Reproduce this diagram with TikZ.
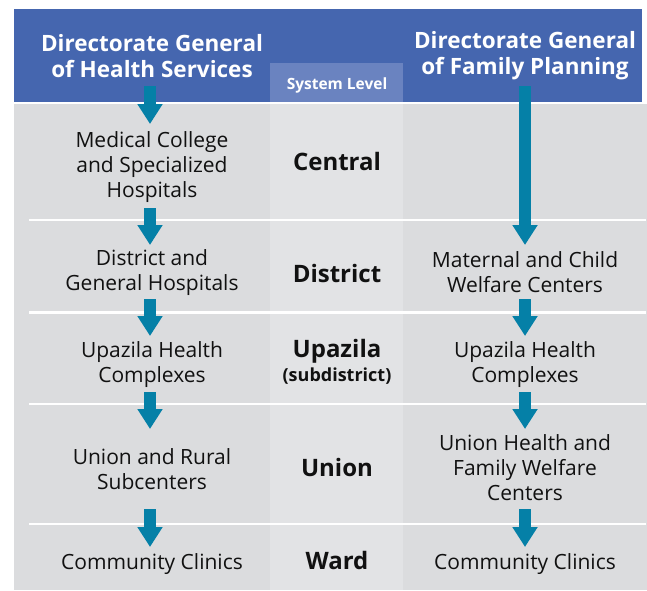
\documentclass[tikz,border=0pt]{standalone}
\usepackage{fontspec}
\setmainfont{Open Sans}
\usetikzlibrary{arrows.meta}
\definecolor{hdrblue}{HTML}{4566AF}
\definecolor{lvlblue}{HTML}{6A83C0}
\definecolor{panelgray}{HTML}{DBDCDE}
\definecolor{midgray}{HTML}{E2E3E5}
\definecolor{flowteal}{HTML}{0580A7}
\definecolor{txt}{HTML}{111111}
\begin{document}
\begin{tikzpicture}[x=1pt,y=-1pt,
  hdr/.style={text=white, font=\fontsize{22.5}{26}\selectfont\bfseries, align=center, inner sep=0pt},
  item/.style={text=txt, font=\fontsize{21}{25}\selectfont, align=center, inner sep=0pt},
  lvl/.style={text=txt, font=\fontsize{24}{25}\selectfont\bfseries, align=center, inner sep=0pt},
  sep/.style={draw=white, line width=2.6pt},
  flow/.style={draw=flowteal, line width=12pt, -{Triangle[width=24pt,length=20pt]}}]
\useasboundingbox (0,0) rectangle (647,590);
% panels
\fill[white] (0,0) rectangle (647,590);
\fill[hdrblue] (14,9) rectangle (642,102);
\fill[panelgray] (14,104) rectangle (647,590);
\fill[midgray] (270,104) rectangle (403,590);
\fill[lvlblue] (270,63) rectangle (403,102);
% row separators
\draw[sep] (29,220) -- (646,220);
\draw[sep] (29,312.5) -- (646,312.5);
\draw[sep] (29,404) -- (646,404);
\draw[sep] (29,524) -- (646,524);
% headings
\node[hdr] (dghs) at (152,56) {Directorate General\\of Health Services};
\node[hdr] (dgfp) at (525,56) {Directorate General\\of Family Planning};
\node[text=white, font=\fontsize{15.5}{18}\selectfont\bfseries, inner sep=0pt] (syslvl) at (337,85) {System Level};
% system levels
\node[lvl] (central) at (337,161) {Central};
\node[lvl] (district) at (337,273) {District};
\node[lvl] (upazila) at (337,351) {Upazila};
\node[text=txt, font=\fontsize{18}{20}\selectfont\bfseries, inner sep=0pt] (subd) at (337,376) {(subdistrict)};
\node[lvl] (union) at (337,467) {Union};
\node[lvl] (ward) at (337,560) {Ward};
% health services column
\node[item] (h1) at (152,167) {Medical College\\and Specialized\\Hospitals};
\node[item] (h2) at (152,273) {District and\\General Hospitals};
\node[item] (h3) at (152,365) {Upazila Health\\Complexes};
\node[item] (h4) at (152,469) {Union and Rural\\Subcenters};
\node[item] (h5) at (152,564) {Community Clinics};
% family planning column
\node[item] (f2) at (525,272) {Maternal and Child\\Welfare Centers};
\node[item] (f3) at (525,365) {Upazila Health\\Complexes};
\node[item] (f4) at (525,468) {Union Health and\\Family Welfare\\Centers};
\node[item] (f5) at (525,564) {Community Clinics};
% arrow end points
\coordinate (ha0) at (150,86);  \coordinate (ha1) at (150,124);
\coordinate (hb0) at (150,208); \coordinate (hb1) at (150,245);
\coordinate (hc0) at (150,299); \coordinate (hc1) at (150,336);
\coordinate (hd0) at (150,392); \coordinate (hd1) at (150,429);
\coordinate (he0) at (150,509); \coordinate (he1) at (150,547);
\coordinate (fa0) at (525,86);  \coordinate (fa1) at (525,245);
\coordinate (fc0) at (525,299); \coordinate (fc1) at (525,336);
\coordinate (fd0) at (525,392); \coordinate (fd1) at (525,429);
\coordinate (fe0) at (525,509); \coordinate (fe1) at (525,547);
% flows
\draw[flow] (ha0) -- (ha1);
\draw[flow] (hb0) -- (hb1);
\draw[flow] (hc0) -- (hc1);
\draw[flow] (hd0) -- (hd1);
\draw[flow] (he0) -- (he1);
\draw[flow] (fa0) -- (fa1);
\draw[flow] (fc0) -- (fc1);
\draw[flow] (fd0) -- (fd1);
\draw[flow] (fe0) -- (fe1);
\end{tikzpicture}
\end{document}
